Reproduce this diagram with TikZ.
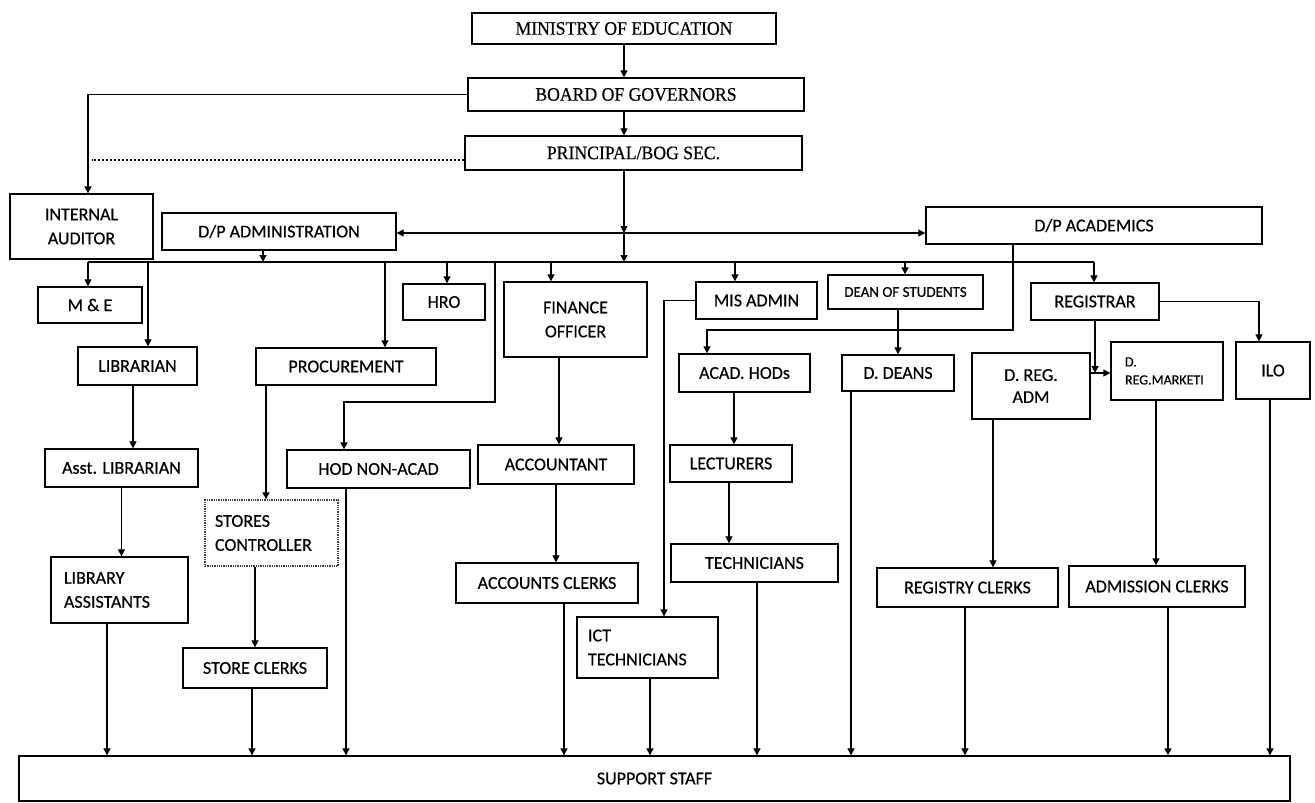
\documentclass[tikz,border=0pt]{standalone}
\usepackage{fontspec}
\setmainfont{Carlito}[FakeBold=0.5]
\newfontfamily\serifT{Liberation Serif}[FakeStretch=0.93,FakeBold=0.5]
\usetikzlibrary{arrows.meta,calc}
\begin{document}
\begin{tikzpicture}[x=1pt,y=-1pt,
  box/.style={draw, line width=1.3pt, inner sep=2pt, align=center,
    font=\fontsize{18}{24}\selectfont},
  sbox/.style={box, font=\serifT\fontsize{19}{22}\selectfont},
  lbox/.style={box, align=left, inner xsep=#1},
  con/.style={line width=1.2pt},
  arr/.style={con, -{Triangle[length=7pt,width=7pt]}},
  darr/.style={con, {Triangle[length=7pt,width=7pt]}-{Triangle[length=7pt,width=7pt]}},
  dotline/.style={con, dash pattern=on 2.5pt off 1.5pt}]
\useasboundingbox (0,0) rectangle (1315,803);

% top
\node[sbox, minimum width=304, minimum height=31] (min) at (624,28.5) {MINISTRY OF EDUCATION};
\node[sbox, minimum width=336, minimum height=33] (bog) at (636,94.5) {BOARD OF GOVERNORS};
\node[sbox, minimum width=337, minimum height=34] (prin) at (633.5,153) {PRINCIPAL/BOG SEC.};

\node[box, minimum width=143, minimum height=65] (ia) at (81.5,226.5) {INTERNAL\\AUDITOR};
\node[box, minimum width=234, minimum height=37] (dpa) at (279,231.5) {D/P ADMINISTRATION};
\node[box, minimum width=336, minimum height=37] (dpac) at (1094,225.5) {D/P ACADEMICS};

% second row
\node[box, minimum width=104, minimum height=36] (me) at (90,305) {M \& E};
\node[box, minimum width=82, minimum height=36] (hro) at (444,302) {HRO};
\node[box, minimum width=143, minimum height=75] (fin) at (575.5,319.5) {FINANCE\\OFFICER};
\node[box, minimum width=121, minimum height=37] (mis) at (756.5,300.5) {MIS ADMIN};
\node[box, minimum width=155, minimum height=34, font=\fontsize{15}{18}\selectfont] (dos) at (905.5,292) {DEAN OF STUDENTS};
\node[box, minimum width=128, minimum height=37] (reg) at (1095,301.5) {REGISTRAR};

% third row
\node[box, minimum width=119, minimum height=38] (lib) at (137.5,366) {LIBRARIAN};
\node[box, minimum width=180, minimum height=37] (proc) at (346,366.5) {PROCUREMENT};
\node[box, minimum width=131, minimum height=38] (acad) at (744.5,373) {ACAD. HODs};
\node[box, minimum width=112, minimum height=36] (dd) at (898,373) {D. DEANS};
\node[box, minimum width=118, minimum height=66, font=\fontsize{18}{22}\selectfont] (dra) at (1031,386) {D. REG.\\ADM};
\node[lbox=14pt, text width=84, minimum width=112, minimum height=58, font=\fontsize{14}{18}\selectfont] (drm) at (1167,371) {D.\\REG.MARKETI};
\node[box, minimum width=74, minimum height=57] (ilo) at (1273,370.5) {ILO};

% fourth row
\node[box, minimum width=153, minimum height=38] (alib) at (121.5,468) {Asst. LIBRARIAN};
\node[box, minimum width=183, minimum height=38] (hod) at (378.5,469) {HOD NON-ACAD};
\node[box, minimum width=156, minimum height=39] (acc) at (556,464.5) {ACCOUNTANT};
\node[box, minimum width=122, minimum height=37] (lect) at (731,463.5) {LECTURERS};

% fifth row
\node[lbox=10pt, text width=113, minimum width=133, minimum height=66, draw=black!75, densely dotted] (sc) at (271.5,533) {STORES\\CONTROLLER};
\node[lbox=13pt, text width=111, minimum width=137, minimum height=66] (la) at (119.5,590) {LIBRARY\\ASSISTANTS};
\node[box, minimum width=182, minimum height=40] (accl) at (547,583) {ACCOUNTS CLERKS};
\node[box, minimum width=167, minimum height=38] (tech) at (754.5,563) {TECHNICIANS};
\node[box, minimum width=181, minimum height=39] (rcl) at (967.5,587.5) {REGISTRY CLERKS};
\node[box, minimum width=176, minimum height=41] (adcl) at (1157,586.5) {ADMISSION CLERKS};

% sixth row
\node[lbox=11pt, text width=119, minimum width=141, minimum height=61] (ict) at (647.5,647.5) {ICT\\TECHNICIANS};
\node[box, minimum width=144, minimum height=40] (scl) at (255,668) {STORE CLERKS};

% bottom
\node[box, minimum width=1271, minimum height=45] (ss) at (654.5,778.5) {SUPPORT STAFF};

% coordinates
\coordinate (hj) at (624,233);
\coordinate (busC) at (624,262);
\coordinate (busL) at (88,262);
\coordinate (busR) at (1094,262);
\coordinate (bDpa) at (263,262);
\coordinate (bLib) at (148,262);
\coordinate (bProc) at (385,262);
\coordinate (bHro) at (447,262);
\coordinate (bHod) at (495,262);
\coordinate (hodK) at (495,402);
\coordinate (bFin) at (551,262);
\coordinate (bMis) at (735,262);
\coordinate (bDos) at (905,262);
\coordinate (acK) at (1013,330);
\coordinate (dashE) at (92,160);
\coordinate (rj) at (1095,373);

% top chain
\draw[arr] (min.south) -- (min.south |- bog.north);
\draw[arr] (min.south |- bog.south) -- (min.south |- prin.north);
\draw[arr] (min.south |- prin.south) -- (hj);
\draw[arr] (hj) -- (busC);
\draw[darr] (dpa.east |- hj) -- (hj -| dpac.west);
\draw[arr] (bog.west) -| ([xshift=6.5pt]ia.north);
\draw[dotline] (prin.west |- dashE) -- (dashE);

% bus
\draw[con] (busL) -- (busR);
\draw[arr] (dpa.south -| bDpa) -- (bDpa);
\draw[arr] (busL) -- (busL |- me.north);
\draw[arr] (bLib) -- (bLib |- lib.north);
\draw[arr] (bProc) -- (bProc |- proc.north);
\draw[arr] (bHro) -- (bHro |- hro.north);
\draw[arr] (bHod) -- (hodK) -| ([xshift=-34.5pt]hod.north);
\draw[arr] (bFin) -- (bFin |- fin.north);
\draw[arr] (bMis) -- (bMis |- mis.north);
\draw[arr] (bDos) -- (bDos |- dos.north);
\draw[arr] (busR) -- (busR |- reg.north);

% academics
\draw[arr] (dpac.south -| acK) -- (acK) -| ([xshift=-37.5pt]acad.north);
\draw[arr] (dos.south -| dd.north) -- (dd.north);
\draw[arr] ([xshift=-10.5pt]acad.south) -- ([xshift=-10.5pt]acad.south |- lect.north);
\draw[arr] ([xshift=-2pt]lect.south) -- ([xshift=-2pt]lect.south |- tech.north);
\draw[arr] (mis.west) -| ([xshift=16.5pt]ict.north);

% library / procurement / finance
\draw[arr] ([xshift=-4.5pt]lib.south) -- ([xshift=-4.5pt]lib.south |- alib.north);
\draw[arr] (alib.south) -- (alib.south |- la.north);
\draw[arr] ([xshift=-80pt]proc.south) -- ([xshift=-80pt]proc.south |- sc.north);
\draw[arr] (sc.south -| scl.north) -- (scl.north);
\draw[arr] ([xshift=-16.5pt]fin.south) -- ([xshift=-16.5pt]fin.south |- acc.north);
\draw[arr] (acc.south) -- (acc.south |- accl.north);

% registrar
\draw[arr] (reg.south) -- (rj);
\draw[con] (dra.east |- rj) -- (rj);
\draw[arr] (rj) -- (rj -| drm.west);
\draw[arr] (reg.east) -| ([xshift=-14pt]ilo.north);
\draw[arr] ([xshift=-38pt]dra.south) -- ([xshift=-38pt]dra.south |- rcl.north);
\draw[arr] ([xshift=-11pt]drm.south) -- ([xshift=-11pt]drm.south |- adcl.north);

% to support staff
\draw[arr] ([xshift=-12.5pt]la.south) -- ([xshift=-12.5pt]la.south |- ss.north);
\draw[arr] ([xshift=-3pt]scl.south) -- ([xshift=-3pt]scl.south |- ss.north);
\draw[arr] ([xshift=-32.5pt]hod.south) -- ([xshift=-32.5pt]hod.south |- ss.north);
\draw[arr] ([xshift=17pt]accl.south) -- ([xshift=17pt]accl.south |- ss.north);
\draw[arr] ([xshift=2.5pt]ict.south) -- ([xshift=2.5pt]ict.south |- ss.north);
\draw[arr] ([xshift=2.5pt]tech.south) -- ([xshift=2.5pt]tech.south |- ss.north);
\draw[arr] ([xshift=-47pt]dd.south) -- ([xshift=-47pt]dd.south |- ss.north);
\draw[arr] ([xshift=-2.5pt]rcl.south) -- ([xshift=-2.5pt]rcl.south |- ss.north);
\draw[arr] ([xshift=11pt]adcl.south) -- ([xshift=11pt]adcl.south |- ss.north);
\draw[arr] ([xshift=-3pt]ilo.south) -- ([xshift=-3pt]ilo.south |- ss.north);
\end{tikzpicture}
\end{document}
